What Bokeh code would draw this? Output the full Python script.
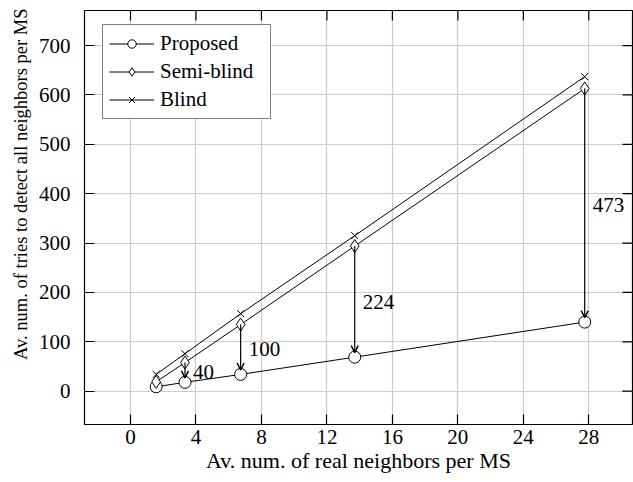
import math
from bokeh.plotting import figure
from bokeh.models import (ColumnDataSource, Legend, LegendItem, Range1d,
                          FixedTicker, Arrow, OpenHead, Title)
from bokeh.core.properties import value
from bokeh.embed import file_html
from bokeh.resources import INLINE

# ---- data ----
neighbors = [1.57, 3.33, 6.73, 13.7, 27.75]
proposed = [9, 18, 34, 69, 140]
semi_blind = [19, 58, 135, 294, 613]
blind = [34, 76, 157, 315, 637]
gain_labels = ["40", "100", "224", "473"]   # for points 2..5
x_ticks = [0, 4, 8, 12, 16, 20, 24, 28]
y_ticks = [0, 100, 200, 300, 400, 500, 600, 700]

FONT = "Liberation Serif"
FS = "21px"
XMIN, XMAX = -2.81, 30.67
YMIN, YMAX = -67.4, 771

p = figure(width=633, height=482, output_backend="svg", toolbar_location=None,
           x_range=Range1d(XMIN, XMAX), y_range=Range1d(YMIN, YMAX),
           min_border_left=84, min_border_right=1, min_border_top=10, min_border_bottom=58)
p.background_fill_color = "white"
p.border_fill_color = "white"
p.outline_line_color = "black"
p.outline_line_width = 1.2

# axes
for ax, ticks in ((p.xaxis[0], x_ticks), (p.yaxis[0], y_ticks)):
    ax.ticker = FixedTicker(ticks=ticks)
    ax.major_tick_in = 10
    ax.major_tick_out = 0
    ax.minor_tick_line_color = None
    ax.axis_line_color = None
    ax.major_tick_line_color = "black"
    ax.major_tick_line_width = 1.2
    ax.major_label_text_font = FONT
    ax.major_label_text_font_size = FS
    ax.major_label_text_color = "black"
    ax.axis_label_text_font = FONT
    ax.axis_label_text_font_size = "22px"
    ax.axis_label_text_font_style = "normal"
    ax.axis_label_text_color = "black"

p.xaxis.axis_label = "Av. num. of real neighbors per MS"
p.xaxis.major_label_standoff = 5
p.xaxis.axis_label_standoff = 1
p.yaxis.major_label_standoff = 14

# y-axis title, anchored near the top as in the original
p.add_layout(Title(text="Av. num. of tries to detect all neighbors per MS",
                   align="right", offset=-2, standoff=10,
                   text_font=FONT, text_font_size="18.5px",
                   text_font_style="normal", text_color="black"), "left")

# mirrored ticks on top and right (half of each dash is clipped by the frame)
p.scatter(x=x_ticks, y=[YMAX] * len(x_ticks), marker="dash", size=20,
          angle=math.pi / 2, line_color="black", line_width=1.2)
p.scatter(x=[XMAX] * len(y_ticks), y=y_ticks, marker="dash", size=20,
          line_color="black", line_width=1.2)

# grid
p.xgrid.ticker = FixedTicker(ticks=x_ticks)
p.ygrid.ticker = FixedTicker(ticks=y_ticks)
p.grid.grid_line_color = "#cccccc"
p.grid.grid_line_width = 1.2

src = ColumnDataSource(dict(x=neighbors, prop=proposed, semi=semi_blind, blind=blind))

l_prop = p.line("x", "prop", source=src, line_color="black", line_width=1)
l_semi = p.line("x", "semi", source=src, line_color="black", line_width=1)
l_blind = p.line("x", "blind", source=src, line_color="black", line_width=1)
m_prop = p.scatter("x", "prop", source=src, marker="circle", size=12,
                   line_color="black", fill_color="white", line_width=1)
m_semi = p.scatter("x", "semi", source=src, marker="diamond", size=13,
                   line_color="black", fill_color="white", line_width=1)
m_blind = p.scatter("x", "blind", source=src, marker="x", size=10,
                    line_color="black", line_width=1)

# arrows from semi-blind down to proposed
for i in range(1, len(neighbors)):
    p.add_layout(Arrow(end=OpenHead(size=7, line_width=1.5, line_color="black"),
                       x_start=neighbors[i], y_start=semi_blind[i],
                       x_end=neighbors[i], y_end=proposed[i] + 9,
                       line_color="black", line_width=1.2))

lab_src = ColumnDataSource(dict(
    x=neighbors[1:],
    y=[(a + b) / 2 for a, b in zip(proposed[1:], semi_blind[1:])],
    t=gain_labels))
p.text("x", "y", text="t", source=lab_src, x_offset=8, text_align="left",
       text_baseline="middle", text_font=value(FONT), text_font_size=FS,
       text_color="black")

legend = Legend(items=[
    LegendItem(label="Proposed", renderers=[l_prop, m_prop]),
    LegendItem(label="Semi-blind", renderers=[l_semi, m_semi]),
    LegendItem(label="Blind", renderers=[l_blind, m_blind]),
], location=(18, 305))
legend.label_text_font = FONT
legend.label_text_font_size = FS
legend.label_text_color = "black"
legend.glyph_width = 45
legend.glyph_height = 21
legend.label_height = 21
legend.label_width = 104
legend.label_standoff = 6
legend.spacing = 3
legend.padding = 6
legend.margin = 0
legend.border_line_color = "black"
legend.border_line_width = 1.2
legend.background_fill_color = "white"
legend.background_fill_alpha = 1
p.add_layout(legend, "center")

open("out.html", "w").write(file_html(p, INLINE))
